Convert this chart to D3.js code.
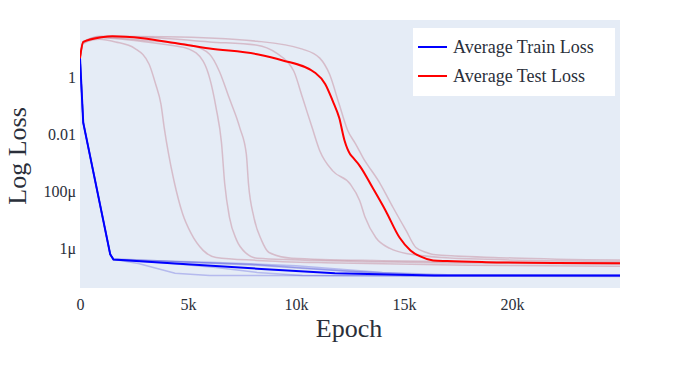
<!DOCTYPE html>
<html><head><meta charset="utf-8">
<script src="https://cdn.jsdelivr.net/npm/d3@7"></script>
<style>body{margin:0;background:#fff;} svg{display:block;}</style>
</head><body>
<svg id="c" width="700" height="370"></svg>
<script>
// ---- data ----
const xTicks = [0, 5000, 10000, 15000, 20000];
const xTickLabels = ["0", "5k", "10k", "15k", "20k"];
const yTicks = [1, 0.01, 1e-4, 1e-6];
const yTickLabels = ["1", "0.01", "100μ", "1μ"];
const legendLabels = ["Average Train Loss", "Average Test Loss"];

const testAvgEpochs = [0,150,1000,1500,2900,4400,6000,8200,9350,10900,11350,11700,12000,12250,12500,12600,12950,13550,14150,14800,15300,15750,16350,17000,18800,22000,25000];
const testAvgLoss   = [4.6,17,25,27,23,15.5,10,6.3,3.9,1.38,0.57,0.145,0.037,0.0058,0.002,0.0016,7.7e-4,1.3e-4,2.05e-5,2.3e-6,8.3e-7,5.1e-7,3.7e-7,3.5e-7,3.2e-7,3.0e-7,2.95e-7];

const trainAvgEpochs = [0,150,1400,1550,4400,8200,11800,16400,25000];
const trainAvgLoss   = [4.6,0.025,6e-7,4e-7,2.9e-7,1.9e-7,1.3e-7,1.1e-7,1.1e-7];

// individual test runs
const testRunAEpochs = [0,150,900,1650,2550,3200,3500,3750,3900,4100,4350,4750,5150,5700,6300,8200,12000,18000,25000];
const testRunALoss   = [4.6,15,21,17,10,2.8,0.57,0.11,0.0165,2e-3,2.3e-4,1.6e-5,3.2e-6,8.3e-7,4.7e-7,3.7e-7,3.0e-7,2.5e-7,2.3e-7];
const testRunBEpochs = [0,150,1000,2800,4200,5050,5700,6000,6300,6550,6700,6920,7250,7700,8200,12000,18000,25000];
const testRunBLoss   = [4.6,16,24,18,13,9.5,3.6,0.93,0.083,5e-3,1.8e-4,1.2e-5,1.9e-6,6.5e-7,4.4e-7,3.5e-7,3.0e-7,2.7e-7];
const testRunCEpochs = [0,150,1000,2800,5150,6000,6450,6900,7400,7700,7800,8050,8400,8750,9800,14000,20000,25000];
const testRunCLoss   = [4.6,17,25,20,13,6.3,1.6,0.19,0.0165,2e-3,1.8e-4,1.2e-5,1.9e-6,7e-7,4.4e-7,3.6e-7,3.2e-7,3.0e-7];
const testRunDEpochs = [0,150,1000,3000,6000,8200,9100,9650,9900,10300,10750,11100,11700,12500,12950,13200,13700,14350,15100,18000,25000];
const testRunDLoss   = [4.6,17,26,25,17,13,6.9,3.1,1.6,0.19,0.0165,2.6e-3,5.1e-4,1.8e-4,4.6e-5,1.2e-5,2.3e-6,9.7e-7,6.5e-7,4.2e-7,3.4e-7];
const testRunEEpochs = [0,150,1000,4000,8200,10300,11100,11550,12000,12400,12750,13100,13900,14500,15100,15550,16050,16350,20000,25000];
const testRunELoss   = [4.6,17,27,26,18,9.5,4.6,1.27,0.11,0.013,4.6e-3,1.5e-3,1.8e-4,2.6e-5,4.1e-6,1.05e-6,7e-7,6e-7,4.5e-7,3.8e-7];

// individual train runs
const trainRun1Epochs = [0,150,1400,1550,2700,4400,6000,25000];
const trainRun1Loss   = [4.6,0.025,6e-7,4e-7,2.9e-7,1.3e-7,1.1e-7,1.05e-7];
const trainRun2Epochs = [0,150,1400,1550,4000,6300,8200,10300,25000];
const trainRun2Loss   = [4.6,0.025,6e-7,4e-7,3.0e-7,2.1e-7,1.4e-7,1.1e-7,1.0e-7];
const trainRun3Epochs = [0,150,1400,1550,5000,7900,12000,15000,25000];
const trainRun3Loss   = [4.6,0.025,6e-7,4e-7,3.2e-7,2.7e-7,1.65e-7,1.1e-7,1.05e-7];
const trainRun4Epochs = [0,150,1400,1550,8200,12000,16000,25000];
const trainRun4Loss   = [4.6,0.025,6e-7,4.2e-7,2.5e-7,1.6e-7,1.15e-7,1.1e-7];
const trainRun5Epochs = [0,150,1400,1550,6000,10000,14000,17000,25000];
const trainRun5Loss   = [4.6,0.025,6e-7,4e-7,3.2e-7,2.4e-7,1.4e-7,1.15e-7,1.12e-7];

// ---- drawing ----
const svg = d3.select("#c");
const L = 80, R = 620, T = 20, B = 288;
const x = d3.scaleLinear().domain([0, 25000]).range([L, R]);
const y = d3.scaleLog().domain([Math.pow(10, -7.4), 100]).range([B, T]);
const serif = "'Liberation Serif','Times New Roman',serif";
const textColor = "#2a2f3a";

svg.append("rect").attr("x", L).attr("y", T).attr("width", R - L).attr("height", B - T).attr("fill", "#e5ecf6");
svg.append("clipPath").attr("id", "clip").append("rect").attr("x", L).attr("y", T).attr("width", R - L).attr("height", B - T);

const zip = (xs, ys) => xs.map((e, i) => [e, ys[i]]);
const line = d3.line().x(d => x(d[0])).y(d => y(d[1])).curve(d3.curveMonotoneX);
const lineLin = d3.line().x(d => x(d[0])).y(d => y(d[1]));
const g = svg.append("g").attr("clip-path", "url(#clip)");

const testRuns = [[testRunAEpochs, testRunALoss],[testRunBEpochs, testRunBLoss],[testRunCEpochs, testRunCLoss],[testRunDEpochs, testRunDLoss],[testRunEEpochs, testRunELoss]];
const trainRuns = [[trainRun1Epochs, trainRun1Loss],[trainRun2Epochs, trainRun2Loss],[trainRun3Epochs, trainRun3Loss],[trainRun4Epochs, trainRun4Loss],[trainRun5Epochs, trainRun5Loss]];

trainRuns.forEach(r => g.append("path").attr("d", lineLin(zip(r[0], r[1])))
  .attr("fill", "none").attr("stroke", "rgba(70,70,220,0.3)").attr("stroke-width", 1.5));
testRuns.forEach(r => g.append("path").attr("d", line(zip(r[0], r[1])))
  .attr("fill", "none").attr("stroke", "rgba(185,100,120,0.35)").attr("stroke-width", 1.5));

g.append("path").attr("d", lineLin(zip(trainAvgEpochs, trainAvgLoss)))
  .attr("fill", "none").attr("stroke", "#0000ff").attr("stroke-width", 2);
g.append("path").attr("d", line(zip(testAvgEpochs, testAvgLoss)))
  .attr("fill", "none").attr("stroke", "#ff0000").attr("stroke-width", 2);

// axes
const xAxis = svg.append("g").attr("transform", `translate(0,${B})`)
  .call(d3.axisBottom(x).tickValues(xTicks).tickFormat((d, i) => xTickLabels[i]).tickSize(0).tickPadding(11));
const yAxis = svg.append("g").attr("transform", `translate(${L},0)`)
  .call(d3.axisLeft(y).tickValues(yTicks).tickFormat((d, i) => yTickLabels[i]).tickSize(0).tickPadding(4));
[xAxis, yAxis].forEach(a => {
  a.select(".domain").remove();
  a.selectAll("text").attr("font-family", serif).attr("font-size", 16).attr("fill", textColor);
});

svg.append("text").attr("x", 349).attr("y", 337).attr("text-anchor", "middle")
  .attr("font-family", serif).attr("font-size", 26).attr("fill", textColor).text("Epoch");
svg.append("text").attr("transform", "translate(26,156) rotate(-90)").attr("text-anchor", "middle")
  .attr("font-family", serif).attr("font-size", 26).attr("fill", textColor).text("Log Loss");

// legend
const lg = svg.append("g");
lg.append("rect").attr("x", 413).attr("y", 28).attr("width", 202).attr("height", 68).attr("fill", "#ffffff");
const legendColors = ["#0000ff", "#ff0000"];
legendLabels.forEach((lab, i) => {
  const cy = 47 + i * 29;
  lg.append("line").attr("x1", 418).attr("x2", 447).attr("y1", cy).attr("y2", cy)
    .attr("stroke", legendColors[i]).attr("stroke-width", 2);
  lg.append("text").attr("x", 453).attr("y", cy + 6).attr("font-family", serif).attr("font-size", 18)
    .attr("fill", textColor).text(lab);
});
</script>
</body></html>
